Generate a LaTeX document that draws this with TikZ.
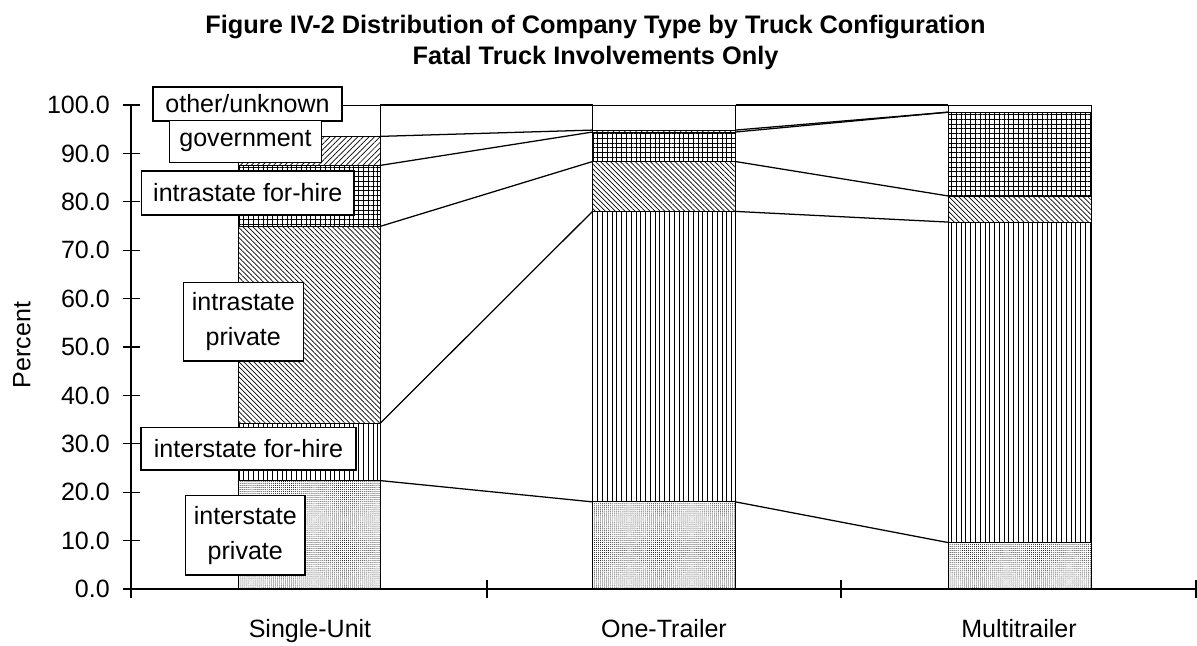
\documentclass[tikz,border=0pt]{standalone}
\usepackage{fontspec}
\setmainfont{Liberation Sans}
\usetikzlibrary{patterns.meta}

\begin{document}
\begin{tikzpicture}[x=0.025cm, y=-0.025cm, font=\fontsize{17.8}{25}\selectfont]
    \tikzstyle{seg} = [draw=black, line width=0.7pt]
    \tikzstyle{ipriv} = [seg, pattern={Dots[distance=1.4pt, radius=0.33pt]}]
    \tikzstyle{ihire} = [seg, pattern={Lines[angle=90, distance=3.4pt, line width=0.55pt]}]
    \tikzstyle{spriv} = [seg, pattern={Lines[angle=-45, distance=2.5pt, line width=0.5pt]}]
    \tikzstyle{shire} = [seg, pattern={Hatch[angle=0, distance=3.4pt, line width=0.5pt]}]
    \tikzstyle{govt} = [seg, pattern={Lines[angle=45, distance=2.8pt, line width=0.5pt]}]
    \tikzstyle{other} = [seg, fill=white]
    \tikzstyle{series} = [line width=0.9pt]
    \tikzstyle{axis} = [line width=0.9pt]
    \tikzstyle{lbl} = [rectangle, draw=black, fill=white, line width=0.9pt, inner sep=0pt, align=center]
    \tikzstyle{tick} = [inner sep=0pt, anchor=east]
    \tikzstyle{cat} = [inner sep=0pt, anchor=base]

    \useasboundingbox (0,0) rectangle (1197,645);

    \node (title) [font=\fontsize{18}{22}\selectfont\bfseries, align=center] at (595.5,42.5)
        {Figure IV-2 Distribution of Company Type by Truck Configuration\\Fatal Truck Involvements Only};

    \begin{scope}[shift={(0,589)}, yscale=-4.84]
      % Single-Unit
      \draw[ipriv] (238,0) rectangle (380,22.4);
      \draw[ihire] (238,22.4) rectangle (380,34.2);
      \draw[spriv] (238,34.2) rectangle (380,74.9);
      \draw[shire] (238,74.9) rectangle (380,87.5);
      \draw[govt] (238,87.5) rectangle (380,93.5);
      \draw[other] (238,93.5) rectangle (380,100);
      % One-Trailer
      \draw[ipriv] (592.5,0) rectangle (735.5,18.0);
      \draw[ihire] (592.5,18.0) rectangle (735.5,78.0);
      \draw[spriv] (592.5,78.0) rectangle (735.5,88.3);
      \draw[shire] (592.5,88.3) rectangle (735.5,94.4);
      \draw[govt] (592.5,94.4) rectangle (735.5,94.8);
      \draw[other] (592.5,94.8) rectangle (735.5,100);
      % Multitrailer
      \draw[ipriv] (948,0) rectangle (1091,9.6);
      \draw[ihire] (948,9.6) rectangle (1091,75.8);
      \draw[spriv] (948,75.8) rectangle (1091,81.2);
      \draw[shire] (948,81.2) rectangle (1091,98.5);
      \draw[other] (948,98.5) rectangle (1091,100);

      % series lines
      \foreach \n/\s/\o/\m in {1/22.4/18.0/9.6, 2/34.2/78.0/75.8, 3/74.9/88.3/81.2,
                               4/87.5/94.4/98.5, 5/93.5/94.8/98.5, 6/100/100/100} {
        \coordinate (su\n) at (380,\s);
        \coordinate (ota\n) at (592.5,\o);
        \coordinate (otb\n) at (735.5,\o);
        \coordinate (mt\n) at (948,\m);
        \draw[series] (su\n) -- (ota\n) (otb\n) -- (mt\n);
      }

      % axes
      \draw[axis] (131,-1.8) -- (131,100);
      \draw[axis] (131,0) -- (1196,0);
      \foreach \v in {0,10,...,100}
        \draw[axis] (123,\v) -- (140,\v);
      \foreach \x in {487,841,1196}
        \draw[axis] (\x,-1.8) -- (\x,1.8);
      \foreach \v/\t in {0/0.0, 10/10.0, 20/20.0, 30/30.0, 40/40.0, 50/50.0,
                         60/60.0, 70/70.0, 80/80.0, 90/90.0, 100/100.0}
        \node (y\v) [tick] at (110,\v) {\t};
    \end{scope}

    \node (ylab) [rotate=90] at (22,345) {Percent};
    \node (lsu) [cat] at (310,637) {Single-Unit};
    \node (lot) [cat] at (664,637) {One-Trailer};
    \node (lmt) [cat] at (1019,637) {Multitrailer};

    % series labels
    \node (other) [lbl, minimum width=4.725cm, minimum height=0.85cm] at (247.5,104) {other/unknown};
    \node (govt) [lbl, minimum width=3.81cm, minimum height=1.04cm] at (245.5,141.5) {government};
    \node (shire) [lbl, minimum width=5.31cm, minimum height=1.1cm] at (247.8,193) {intrastate for-hire};
    \node (spriv) [lbl, minimum width=3.0cm, minimum height=1.96cm] at (243.3,321.8) {intrastate\\private};
    \node (ihire) [lbl, minimum width=5.375cm, minimum height=1.07cm] at (248.5,448.7) {interstate for-hire};
    \node (ipriv) [lbl, minimum width=2.98cm, minimum height=1.98cm] at (245.3,535.3) {interstate\\private};
\end{tikzpicture}
\end{document}
